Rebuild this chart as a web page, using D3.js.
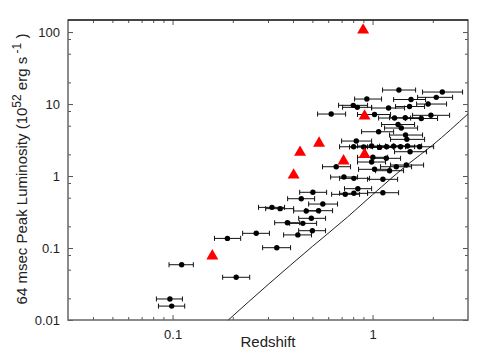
<html>
<head>
    <title>peak luminosity vs redshift</title>
</head>
<body style="margin: 0; background: #fff;">
    <svg></svg>
</body>

<script src="https://cdn.jsdelivr.net/npm/d3@7"></script>
<script>
const width = 496;
const height = 354;

// bursts with redshift error bars (z, lower z, upper z, peak luminosity 1e52 erg/s)
const redshift = [0.097,0.099,0.111,0.188,0.208,0.262,0.332,0.314,0.345,0.375,0.423,0.448,0.440,0.466,0.494,0.500,0.503,0.537,0.564,0.658,0.621,0.719,0.730,0.806,0.806,0.844,0.829,0.801,0.839,0.804,0.936,0.989,1.003,1.023,1.023,1.072,1.126,1.126,1.171,1.202,1.216,1.288,1.314,1.341,1.354,1.392,1.462,1.484,1.457,1.474,1.531,1.557,1.540,1.752,1.895,1.957,2.082,2.232,0.902,0.989,1.084,1.175,1.274,1.380,1.496,1.718];
const redshiftLo = [0.083,0.085,0.096,0.162,0.178,0.224,0.282,0.269,0.292,0.324,0.359,0.385,0.376,0.403,0.427,0.427,0.432,0.462,0.479,0.562,0.531,0.617,0.624,0.684,0.684,0.724,0.700,0.676,0.708,0.684,0.813,0.841,0.841,0.851,0.841,0.881,0.944,0.944,0.989,0.989,1.035,1.072,1.096,1.109,1.122,1.148,1.216,1.230,1.216,1.230,1.303,1.274,1.288,1.462,1.660,1.585,1.679,1.778,0.767,0.841,0.923,1.000,1.084,1.175,1.274,1.462];
const redshiftHi = [0.112,0.115,0.127,0.219,0.243,0.305,0.389,0.363,0.403,0.432,0.495,0.525,0.513,0.543,0.582,0.582,0.589,0.631,0.668,0.776,0.733,0.841,0.861,0.944,0.966,0.989,0.989,0.944,0.989,0.944,1.109,1.161,1.189,1.216,1.230,1.274,1.334,1.349,1.380,1.445,1.429,1.549,1.567,1.622,1.641,1.679,1.778,1.820,1.738,1.799,1.820,1.841,1.862,2.113,2.344,2.427,2.512,2.818,1.059,1.161,1.274,1.380,1.496,1.622,1.758,2.020];
const luminosity = [0.0196,0.0156,0.0586,0.136,0.0392,0.160,0.101,0.367,0.352,0.2245,0.152,0.220,0.484,0.327,0.2585,0.174,0.594,0.330,0.408,1.346,7.26,0.968,0.557,0.575,0.929,0.667,3.06,9.59,9.0,2.55,11.73,1.565,1.82,1.239,7.15,4.12,0.90,0.586,1.762,8.80,1.185,6.39,1.346,5.19,15.65,4.64,3.71,3.23,6.45,1.42,9.23,11.55,2.175,6.29,10,6.97,12.39,14.68,2.53,2.61,2.50,2.55,2.60,2.55,2.62,2.55];

// red triangles
const triRedshift = [0.897,0.912,0.540,0.434,0.912,0.716,0.403,0.158];
const triLuminosity = [106.6,6.81,2.85,2.13,1.99,1.62,1.03,0.0774];

// detection limit curve
const limitZ = [0.19,0.30,0.50,0.75,1.0,1.5,2.0,3.0];
const limitL = [0.01,0.031,0.105,0.27,0.55,1.45,2.7,7.3];

const xTicks = [0.1, 1];
const xTickLabels = ["0.1", "1"];
const yTicks = [0.01, 0.1, 1, 10, 100];
const yTickLabels = ["0.01", "0.1", "1", "10", "100"];

const mLeft = 68, mRight = 468, mTop = 20, mBottom = 320;
const font = "'Liberation Sans', Arial, Helvetica, sans-serif";

const x = d3.scaleLog().domain([0.03, 3]).range([mLeft, mRight]);
const y = d3.scaleLog().domain([0.01, 147]).range([mBottom, mTop]);

const xMinor = [];
for (let d of [0.01, 0.1, 1])
    for (let m = 2; m <= 9; m++)
        if (d * m > 0.03 && d * m < 3) xMinor.push(d * m);
const yMinor = [];
for (let d of [0.01, 0.1, 1, 10, 100])
    for (let m of [2, 5, 8])
        if (d * m < 147) yMinor.push(d * m);

const svg = d3.select("svg")
    .attr("width", width)
    .attr("height", height)
    .style("font-family", font);

function styleAxis(g) {
    g.select(".domain").remove();
    g.selectAll("line").attr("stroke", "#555");
    g.selectAll("text").attr("fill", "#222").style("font-size", "13px").style("font-family", font);
}

// major / minor ticks, all pointing inward
svg.append("g").attr("transform", `translate(0,${mBottom})`)
    .call(d3.axisBottom(x).tickValues(xTicks).tickFormat((d, i) => xTickLabels[i]).tickSize(-5).tickPadding(10))
    .call(styleAxis);
svg.append("g").attr("transform", `translate(0,${mBottom})`)
    .call(d3.axisBottom(x).tickValues(xMinor).tickFormat("").tickSize(-3))
    .call(styleAxis);
svg.append("g").attr("transform", `translate(0,${mTop})`)
    .call(d3.axisTop(x).tickValues(xTicks).tickFormat("").tickSize(-5))
    .call(styleAxis);
svg.append("g").attr("transform", `translate(0,${mTop})`)
    .call(d3.axisTop(x).tickValues(xMinor).tickFormat("").tickSize(-3))
    .call(styleAxis);
svg.append("g").attr("transform", `translate(${mLeft},0)`)
    .call(d3.axisLeft(y).tickValues(yTicks).tickFormat((d, i) => yTickLabels[i]).tickSize(-5).tickPadding(8))
    .call(styleAxis);
svg.append("g").attr("transform", `translate(${mLeft},0)`)
    .call(d3.axisLeft(y).tickValues(yMinor).tickFormat("").tickSize(-3))
    .call(styleAxis);
svg.append("g").attr("transform", `translate(${mRight},0)`)
    .call(d3.axisRight(y).tickValues(yTicks).tickFormat("").tickSize(-5))
    .call(styleAxis);
svg.append("g").attr("transform", `translate(${mRight},0)`)
    .call(d3.axisRight(y).tickValues(yMinor).tickFormat("").tickSize(-3))
    .call(styleAxis);

// frame
svg.append("rect")
    .attr("x", mLeft).attr("y", mTop)
    .attr("width", mRight - mLeft).attr("height", mBottom - mTop)
    .attr("fill", "none")
    .attr("stroke", "#666")
    .attr("stroke-width", 1.5);
svg.append("line")
    .attr("x1", mLeft).attr("x2", mRight)
    .attr("y1", mTop).attr("y2", mTop)
    .attr("stroke", "#000");

const plot = svg.append("g");

// limit curve
const limit = limitZ.map((z, i) => [z, limitL[i]]);
plot.append("path")
    .datum(limit)
    .attr("fill", "none")
    .attr("stroke", "#222")
    .attr("stroke-width", 1)
    .attr("d", d3.line().x(d => x(d[0])).y(d => y(d[1])).curve(d3.curveMonotoneX));

const pts = redshift.map((z, i) => ({z: z, lo: redshiftLo[i], hi: redshiftHi[i], L: luminosity[i]}));

const bars = plot.append("g")
    .attr("stroke", "#111")
    .attr("stroke-width", 1)
    .selectAll("g")
    .data(pts)
    .join("g");
bars.append("line")
    .attr("x1", d => x(d.lo)).attr("x2", d => x(d.hi))
    .attr("y1", d => y(d.L)).attr("y2", d => y(d.L));
bars.append("line")
    .attr("x1", d => x(d.lo)).attr("x2", d => x(d.lo))
    .attr("y1", d => y(d.L) - 2.5).attr("y2", d => y(d.L) + 2.5);
bars.append("line")
    .attr("x1", d => x(d.hi)).attr("x2", d => x(d.hi))
    .attr("y1", d => y(d.L) - 2.5).attr("y2", d => y(d.L) + 2.5);

plot.append("g")
    .attr("fill", "#000")
    .selectAll("circle")
    .data(pts)
    .join("circle")
        .attr("cx", d => x(d.z))
        .attr("cy", d => y(d.L))
        .attr("r", 2.7);

plot.append("g")
    .attr("fill", "#f00")
    .selectAll("path")
    .data(triRedshift.map((z, i) => [z, triLuminosity[i]]))
    .join("path")
        .attr("transform", d => `translate(${x(d[0])},${y(d[1])})`)
        .attr("d", d3.symbol(d3.symbolTriangle, 62));

// axis titles
svg.append("text")
    .attr("x", 268).attr("y", 347)
    .attr("text-anchor", "middle")
    .attr("fill", "#222")
    .style("font-size", "15px")
    .text("Redshift");

const ylab = svg.append("text")
    .attr("transform", "translate(27,169) rotate(-90)")
    .attr("text-anchor", "middle")
    .attr("fill", "#222")
    .style("font-size", "15px");
ylab.append("tspan").text("64 msec Peak Luminosity (10");
ylab.append("tspan").attr("dy", -6).style("font-size", "12px").text("52");
ylab.append("tspan").attr("dy", 6).text(" erg s");
ylab.append("tspan").attr("dy", -6).style("font-size", "12px").text(" -1");
ylab.append("tspan").attr("dy", 6).text(" )");
</script>
</html>
